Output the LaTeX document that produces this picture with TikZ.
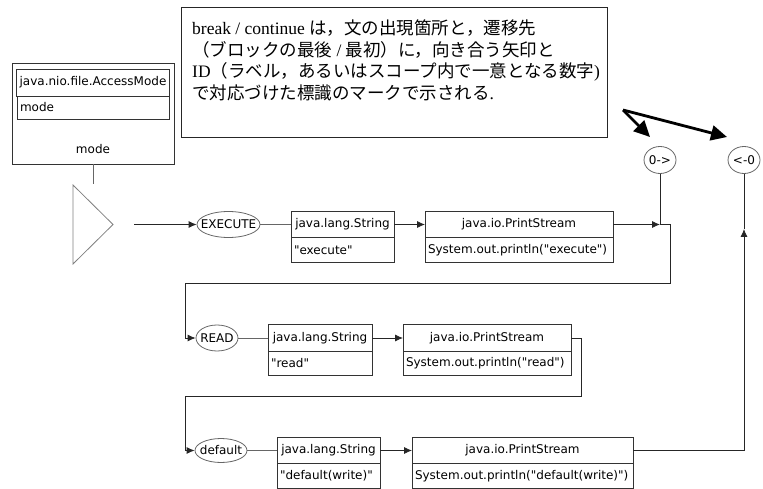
\documentclass[tikz,border=0pt]{standalone}
\usepackage{fontspec}
\newfontfamily\uifont{DejaVu Sans}
\newfontfamily\jp{Noto Sans CJK JP}
\newfontfamily\lat{Liberation Serif}
\usetikzlibrary{positioning,shapes.geometric,arrows.meta}

\tikzset{
  cell/.style={draw=black!80, line width=0.8pt, inner sep=3pt, outer sep=0pt, font=\uifont\fontsize{12}{14}\selectfont},
  lbl/.style={ellipse, draw=black!60, line width=0.8pt, inner xsep=-10pt, inner ysep=-4pt, font=\uifont\fontsize{12}{14}\selectfont},
  link/.style={draw=black!60, line width=0.8pt},
  wire/.style={draw=black!85, line width=0.8pt},
  arr/.style={wire, -{Latex[length=8pt,width=7pt]}},
  hint/.style={line width=2.8pt, -{Triangle[length=16pt,width=15pt]}}
}

\begin{document}
\begin{tikzpicture}[x=1pt,y=-1pt]
\useasboundingbox (0,0) rectangle (763,489);
% selector variable
\node[cell, minimum width=162, minimum height=101] (modebox) at (93,113.5) {};
\node[cell, minimum width=152, minimum height=27] (modetype) at (93,82.5) {java.nio.file.AccessMode};
\node[cell, below=0pt of modetype, minimum height=23, text width=146pt, align=left] (modevar) {mode};
\node[font=\uifont\fontsize{12}{14}\selectfont] (modelab) at (93,149) {mode};
\coordinate (tritop) at (93,184);
\draw[link] (modebox.south) -- (tritop);
% switch
\draw[draw=black!50, line width=0.8pt] (73,185) -- (113,224.5) -- (73,264) -- cycle;
\coordinate (swout) at (134,224.5);
% case rows
\foreach \n/\lab/\ex/\ew/\eh/\y/\sx/\sw/\sval/\px/\pw/\pval in {
  1/EXECUTE/228.5/63/26/224.5/342.5/103/"execute"/519/188/System.out.println("execute"),
  2/READ/217/42/26/338/320/104/"read"/487/168/System.out.println("read"),
  3/default/221/52/24/450.5/328.5/103/"default(write)"/522.5/221/System.out.println("default(write)")}{
  \pgfmathsetmacro\stw{\sw-6}
  \pgfmathsetmacro\ptw{\pw-6}
  \node[lbl, minimum width=\ew, minimum height=\eh] (e\n) at (\ex,\y) {\lab};
  \node[cell, minimum width=\sw, minimum height=26.5] (s\n) at (\sx,\y) {java.lang.String};
  \node[cell, below=0pt of s\n, minimum height=24.5, text width=\stw pt, align=left] (sv\n) {\sval};
  \node[cell, minimum width=\pw, minimum height=26.5] (p\n) at (\px,\y) {java.io.PrintStream};
  \node[cell, below=0pt of p\n, minimum height=24.5, text width=\ptw pt, align=left] (pv\n) {\pval};
  \draw[link] (e\n) -- (s\n);
  \draw[arr] (s\n) -- (p\n);
}
\draw[arr] (swout) -- (e1);
% break / continue marks
\node[lbl, minimum width=32, minimum height=27] (brk) at (660,160) {0->};
\node[lbl, minimum width=32, minimum height=27] (cont) at (744,160) {<-0};
\coordinate (j1) at (660,224.5);
\coordinate (j3) at (744,229);
\draw[arr] (p1) -- (j1);
\draw[wire] (brk) -- (j1);
\draw[arr] (j1) -| (670,283) -- (185,283) |- (e2);
\draw[arr] (p2.east) -| (581,396) -- (185,396) |- (e3);
\draw[arr] (p3.east) -| (j3);
\draw[wire] (j3) -- (cont);
% note
\node[draw=black!85, line width=0.9pt, minimum width=426, minimum height=130, anchor=north west] (note) at (181,7) {};
\node[anchor=north west, align=left, inner sep=0pt, font=\lat\fontsize{17.5}{21.5}\selectfont] (notetext) at (192,20)
  {break / continue {\jp は，文の出現箇所と，遷移先}\\
   {\jp （ブロックの最後} / {\jp 最初）に，向き合う矢印と}\\
   ID{\jp （ラベル，あるいはスコープ内で一意となる数字}) \\
   {\jp で対応づけた標識のマークで示される}.};
\coordinate (notept) at (623,110);
\coordinate (brktip) at (650,137);
\coordinate (conttip) at (727,137);
\draw[hint] (notept) -- (brktip);
\draw[hint] (notept) -- (conttip);
\end{tikzpicture}
\end{document}
